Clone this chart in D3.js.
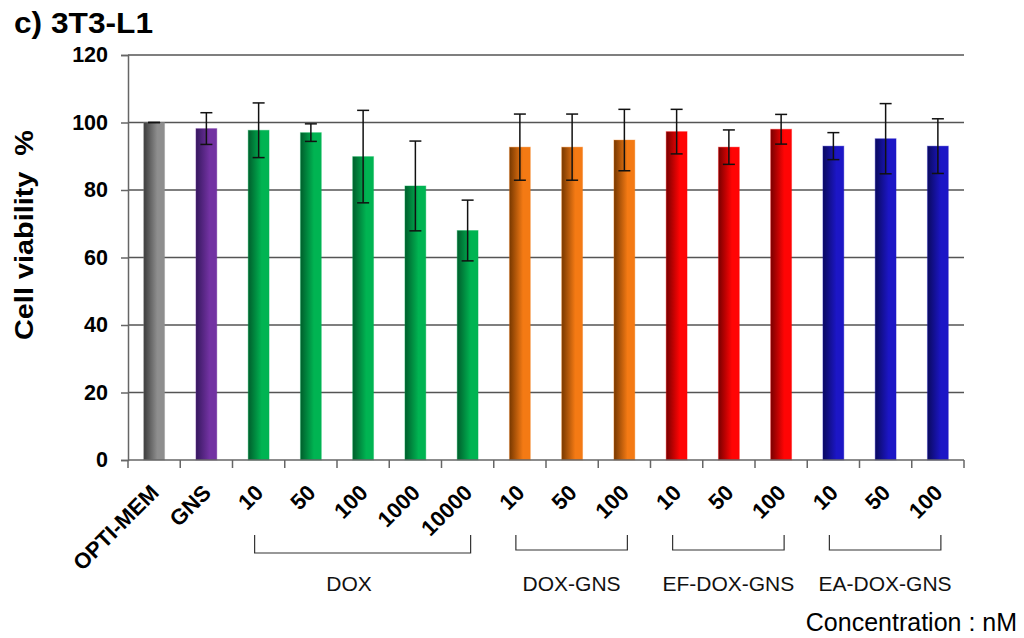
<!DOCTYPE html>
<html>
<head>
<meta charset="utf-8">
<script src="https://cdn.jsdelivr.net/npm/d3@7"></script>
<style>
  html, body { margin: 0; padding: 0; background: #fff; }
  svg { display: block; font-family: "Liberation Sans", Arial, sans-serif; }
</style>
</head>
<body>
<svg id="chart" width="1024" height="638"></svg>
<script>
// Cell viability of 3T3-L1 cells after treatment (mean ± SD)
const categories = ["OPTI-MEM", "GNS",
  "DOX 10", "DOX 50", "DOX 100", "DOX 1000", "DOX 10000",
  "DOX-GNS 10", "DOX-GNS 50", "DOX-GNS 100",
  "EF-DOX-GNS 10", "EF-DOX-GNS 50", "EF-DOX-GNS 100",
  "EA-DOX-GNS 10", "EA-DOX-GNS 50", "EA-DOX-GNS 100"];
const tickLabels = ["OPTI-MEM", "GNS", "10", "50", "100", "1000", "10000",
  "10", "50", "100", "10", "50", "100", "10", "50", "100"];
const viability = [100, 98.2, 97.7, 97.0, 89.9, 81.2, 68.0,
  92.7, 92.7, 94.8, 97.3, 92.7, 98.0, 93.0, 95.2, 93.0];
const errors = [0, 4.7, 8.1, 2.6, 13.7, 13.3, 9.0,
  9.8, 9.8, 9.1, 6.6, 5.1, 4.4, 4.0, 10.4, 8.1];
const barGroup = ["ctrl", "gns", "dox", "dox", "dox", "dox", "dox",
  "doxgns", "doxgns", "doxgns", "ef", "ef", "ef", "ea", "ea", "ea"];
const yTicks = [0, 20, 40, 60, 80, 100, 120];
const groups = [
  { name: "DOX", first: 2, last: 6 },
  { name: "DOX-GNS", first: 7, last: 9 },
  { name: "EF-DOX-GNS", first: 10, last: 12 },
  { name: "EA-DOX-GNS", first: 13, last: 15 }
];

// Dark-to-bright shading for each bar colour
const shades = {
  ctrl:   ["#3c3c3c", "#8e8e8e"],
  gns:    ["#36185f", "#7232a2"],
  dox:    ["#005e2c", "#00b452"],
  doxgns: ["#773800", "#f47a14"],
  ef:     ["#780000", "#ff0404"],
  ea:     ["#0a0a5e", "#1c16c6"]
};

const svg = d3.select("#chart");
const plotL = 128, plotR = 964, plotT = 55, plotB = 460;

const x = d3.scaleBand().domain(categories).range([plotL, plotR]).padding(0);
const y = d3.scaleLinear().domain([0, 120]).range([plotB, plotT]);
const barW = x.bandwidth() * 0.4;

const defs = svg.append("defs");
Object.entries(shades).forEach(([key, [dark, bright]]) => {
  const g = defs.append("linearGradient").attr("id", "grad-" + key)
    .attr("x1", "0%").attr("x2", "100%").attr("y1", "0%").attr("y2", "0%");
  g.append("stop").attr("offset", "0%").attr("stop-color", dark);
  g.append("stop").attr("offset", "65%").attr("stop-color", bright);
  g.append("stop").attr("offset", "100%").attr("stop-color", bright);
});

// Title
svg.append("text").attr("x", 14).attr("y", 33)
  .attr("font-size", 29).attr("font-weight", "bold")
  .attr("textLength", 139).attr("lengthAdjust", "spacingAndGlyphs")
  .text("c) 3T3-L1");

// Horizontal gridlines
svg.append("g").selectAll("line").data(yTicks.filter(d => d > 0)).join("line")
  .attr("x1", plotL).attr("x2", plotR)
  .attr("y1", d => y(d)).attr("y2", d => y(d))
  .attr("stroke", "#555").attr("stroke-width", 1.5);

// Y axis
const yAxis = svg.append("g").attr("transform", `translate(${plotL},0)`)
  .call(d3.axisLeft(y).tickValues(yTicks).tickSize(7).tickPadding(13));
yAxis.select(".domain").attr("stroke", "#666").attr("stroke-width", 1.5);
yAxis.selectAll(".tick line").attr("stroke", "#666").attr("stroke-width", 1.5);
yAxis.selectAll(".tick text").attr("font-size", 21.5).attr("font-weight", "bold")
  .attr("fill", "#000").attr("font-family", "Liberation Sans, Arial, sans-serif");

// Bars
svg.append("g").selectAll("rect").data(categories).join("rect")
  .attr("x", d => x(d) + (x.bandwidth() - barW) / 2)
  .attr("width", barW)
  .attr("y", (d, i) => y(viability[i]))
  .attr("height", (d, i) => plotB - y(viability[i]))
  .attr("fill", (d, i) => `url(#grad-${barGroup[i]})`)
  .attr("stroke", (d, i) => shades[barGroup[i]][1])
  .attr("stroke-opacity", 0.35).attr("stroke-width", 1);

// X axis with ticks at band boundaries
const xb = svg.append("g");
xb.append("line").attr("x1", plotL).attr("x2", plotR)
  .attr("y1", plotB).attr("y2", plotB)
  .attr("stroke", "#666").attr("stroke-width", 1.5);
xb.selectAll(".xt").data(d3.range(categories.length + 1)).join("line")
  .attr("class", "xt")
  .attr("x1", i => plotL + i * x.step()).attr("x2", i => plotL + i * x.step())
  .attr("y1", plotB).attr("y2", plotB + 8)
  .attr("stroke", "#666").attr("stroke-width", 1.5);

// Error bars
const err = svg.append("g").attr("stroke", "#111").attr("stroke-width", 1.5);
categories.forEach((c, i) => {
  const cx = x(c) + x.bandwidth() / 2;
  const hi = y(viability[i] + errors[i]), lo = y(viability[i] - errors[i]);
  err.append("line").attr("x1", cx).attr("x2", cx).attr("y1", hi).attr("y2", lo);
  err.append("line").attr("x1", cx - 6).attr("x2", cx + 6).attr("y1", hi).attr("y2", hi);
  err.append("line").attr("x1", cx - 6).attr("x2", cx + 6).attr("y1", lo).attr("y2", lo);
});

// Rotated category labels
svg.append("g").selectAll("text").data(categories).join("text")
  .attr("transform", d => `translate(${x(d) + x.bandwidth() / 2 + 6},494) rotate(-45)`)
  .attr("text-anchor", "end")
  .attr("font-size", 22).attr("font-weight", "bold")
  .text((d, i) => tickLabels[i]);

// Group brackets and names
const br = svg.append("g");
groups.forEach((g, k) => {
  const x0 = x(categories[g.first]) + x.bandwidth() / 2 - 4;
  const x1 = x(categories[g.last]) + x.bandwidth() / 2 + 3;
  const yb = k === 0 ? 553 : 550;
  br.append("path")
    .attr("d", `M${x0},535 L${x0},${yb} L${x1},${yb} L${x1},535`)
    .attr("fill", "none").attr("stroke", "#333").attr("stroke-width", 1.2);
  const mid = k === 0 ? 349 : (x0 + x1) / 2;
  br.append("text").attr("x", mid).attr("y", 591)
    .attr("text-anchor", "middle").attr("font-size", 21).attr("fill", "#111")
    .text(g.name);
});

svg.append("text").attr("x", 1017).attr("y", 631)
  .attr("text-anchor", "end").attr("font-size", 25)
  .text("Concentration : nM");

// Y axis title
svg.append("text")
  .attr("transform", `translate(33,235) rotate(-90)`)
  .attr("text-anchor", "middle").attr("font-size", 25).attr("font-weight", "bold")
  .attr("textLength", 210).attr("lengthAdjust", "spacingAndGlyphs")
  .style("white-space", "pre")
  .text("Cell viability  %");
</script>
</body>
</html>
